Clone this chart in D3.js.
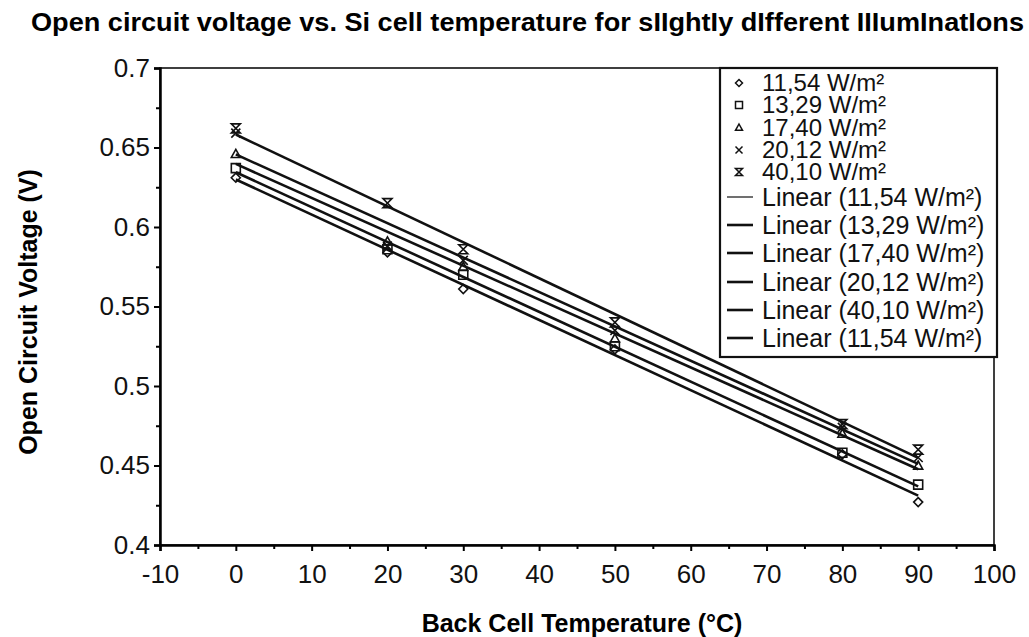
<!DOCTYPE html>
<html>
<head>
<meta charset="utf-8">
<script src="https://cdn.jsdelivr.net/npm/d3@7"></script>
<style>
  html, body { margin: 0; padding: 0; background: #fff; }
  svg { display: block; font-family: "Liberation Sans", Arial, sans-serif; }
</style>
</head>
<body>
<svg id="chart" width="1029" height="637"></svg>
<script>
// ---- data ----
const temperatures = [0, 20, 30, 50, 80, 90];
const seriesNames = ["11,54 W/m²", "13,29 W/m²", "17,40 W/m²", "20,12 W/m²", "40,10 W/m²"];
const v1154 = [0.631, 0.584, 0.561, 0.523, 0.457, 0.427];
const v1329 = [0.637, 0.586, 0.570, 0.525, 0.458, 0.438];
const v1740 = [0.646, 0.591, 0.575, 0.530, 0.470, 0.450];
const v2012 = [0.659, 0.588, 0.579, 0.535, 0.474, 0.455];
const v4010 = [0.662, 0.615, 0.586, 0.540, 0.476, 0.460];
const markerShapes = ["diamond", "square", "triangle", "cross", "hourglass"];
const xTickValues = [-10, 0, 10, 20, 30, 40, 50, 60, 70, 80, 90, 100];
const xTickLabels = ["-10", "0", "10", "20", "30", "40", "50", "60", "70", "80", "90", "100"];
const yTickValues = [0.4, 0.45, 0.5, 0.55, 0.6, 0.65, 0.7];
const yTickLabels = ["0.4", "0.45", "0.5", "0.55", "0.6", "0.65", "0.7"];
const legendLineLabels = ["Linear (11,54 W/m²)", "Linear (13,29 W/m²)", "Linear (17,40 W/m²)",
                          "Linear (20,12 W/m²)", "Linear (40,10 W/m²)", "Linear (11,54 W/m²)"];
const titleText = "Open circuit voltage vs. Si cell temperature for sIIghtIy dIfferent IIIumInatIons";
const xTitle = "Back Cell Temperature (°C)";
const yTitle = "Open Circuit Voltage (V)";

const seriesValues = [v1154, v1329, v1740, v2012, v4010];

// ---- layout ----
const svg = d3.select("#chart");
const pLeft = 160, pRight = 994, pTop = 68, pBottom = 545;
const x = d3.scaleLinear().domain([-10, 100]).range([pLeft, pRight]);
const y = d3.scaleLinear().domain([0.4, 0.7]).range([pBottom, pTop]);

// title
svg.append("text")
  .attr("x", 31).attr("y", 31)
  .attr("font-size", 26).attr("font-weight", "bold")
  .attr("textLength", 993).attr("lengthAdjust", "spacingAndGlyphs")
  .text(titleText);

// frame (top & right)
svg.append("rect")
  .attr("x", pLeft).attr("y", pTop)
  .attr("width", pRight - pLeft).attr("height", pBottom - pTop)
  .attr("fill", "none").attr("stroke", "#000").attr("stroke-width", 1.5);

// axes
const xAxis = d3.axisBottom(x).tickValues(xTickValues).tickSize(6).tickPadding(14)
  .tickFormat((d, i) => xTickLabels[i]);
const gx = svg.append("g").attr("transform", `translate(0,${pBottom})`).call(xAxis);
gx.select(".domain").attr("stroke-width", 2.5);
gx.selectAll(".tick line").attr("stroke-width", 2);
gx.selectAll("text").attr("font-size", 26).attr("fill", "#111");

const xMinor = d3.axisBottom(x).tickValues(d3.range(-5, 100, 10)).tickSize(4).tickFormat("");
const gxm = svg.append("g").attr("transform", `translate(0,${pBottom})`).call(xMinor);
gxm.select(".domain").remove();
gxm.selectAll(".tick line").attr("stroke-width", 2);

const yAxis = d3.axisLeft(y).tickValues(yTickValues).tickSize(6).tickPadding(4)
  .tickFormat((d, i) => yTickLabels[i]);
const gy = svg.append("g").attr("transform", `translate(${pLeft},0)`).call(yAxis);
gy.select(".domain").attr("stroke-width", 2.5);
gy.selectAll(".tick line").attr("stroke-width", 2);
gy.selectAll("text").attr("font-size", 26).attr("fill", "#111");

const yMinor = d3.axisLeft(y).tickValues(d3.range(0.425, 0.7, 0.05)).tickSize(4).tickFormat("");
const gym = svg.append("g").attr("transform", `translate(${pLeft},0)`).call(yMinor);
gym.select(".domain").remove();
gym.selectAll(".tick line").attr("stroke-width", 2);

// axis titles
svg.append("text")
  .attr("x", 582).attr("y", 632)
  .attr("text-anchor", "middle").attr("font-size", 25).attr("font-weight", "bold")
  .text(xTitle);
svg.append("text")
  .attr("transform", `translate(37,312) rotate(-90)`)
  .attr("text-anchor", "middle").attr("font-size", 25).attr("font-weight", "bold")
  .text(yTitle);

// markers
function markerPath(shape, s) {
  switch (shape) {
    case "diamond": return `M0,${-s}L${s},0L0,${s}L${-s},0Z`;
    case "square": return `M${-s},${-s}H${s}V${s}H${-s}Z`;
    case "triangle": return `M0,${-s}L${s},${s * 0.8}H${-s}Z`;
    case "cross": return `M${-s},${-s}L${s},${s}M${s},${-s}L${-s},${s}`;
    case "hourglass": return `M${-s},${-s}H${s}L${-s},${s}H${s}Z`;
  }
}

// regression lines
function fit(xs, ys) {
  const mx = d3.mean(xs), my = d3.mean(ys);
  let num = 0, den = 0;
  xs.forEach((xv, i) => { num += (xv - mx) * (ys[i] - my); den += (xv - mx) ** 2; });
  const b = num / den;
  return { a: my - b * mx, b };
}
const line = d3.line().x(d => x(d[0])).y(d => y(d[1]));
const x0 = d3.min(temperatures), x1 = d3.max(temperatures);
seriesValues.forEach((vals, si) => {
  const f = fit(temperatures, vals);
  svg.append("path")
    .attr("d", line([[x0, f.a + f.b * x0], [x1, f.a + f.b * x1]]))
    .attr("fill", "none").attr("stroke", "#111").attr("stroke-width", 2.6);
});

seriesValues.forEach((vals, si) => {
  svg.append("g").selectAll("path")
    .data(vals.map((v, i) => [temperatures[i], v]))
    .join("path")
    .attr("transform", d => `translate(${x(d[0])},${y(d[1])})`)
    .attr("d", markerPath(markerShapes[si], 4.5))
    .attr("fill", "#fff").attr("fill-opacity", 0)
    .attr("stroke", "#111").attr("stroke-width", 1.6);
});

// legend
const lg = svg.append("g");
lg.append("rect").attr("x", 720).attr("y", 68).attr("width", 277).attr("height", 289)
  .attr("fill", "#fff").attr("stroke", "#111").attr("stroke-width", 2.2);
const markerRowY = [83, 105, 127.5, 150, 172];
seriesNames.forEach((name, i) => {
  lg.append("path")
    .attr("transform", `translate(739,${markerRowY[i]})`)
    .attr("d", markerPath(markerShapes[i], 3.5))
    .attr("fill", "none").attr("stroke", "#111").attr("stroke-width", 1.5);
  lg.append("text").attr("x", 762).attr("y", markerRowY[i]).attr("dy", "0.35em")
    .attr("font-size", 24).attr("fill", "#111").text(name);
});
const lineRowY = [197, 225, 253, 282, 310, 338];
legendLineLabels.forEach((name, i) => {
  lg.append("line").attr("x1", 727).attr("x2", 753)
    .attr("y1", lineRowY[i]).attr("y2", lineRowY[i])
    .attr("stroke", "#111").attr("stroke-width", i === 0 ? 1.2 : 2.6);
  lg.append("text").attr("x", 762).attr("y", lineRowY[i]).attr("dy", "0.35em")
    .attr("font-size", 25).attr("fill", "#111").text(name);
});
</script>
</body>
</html>
